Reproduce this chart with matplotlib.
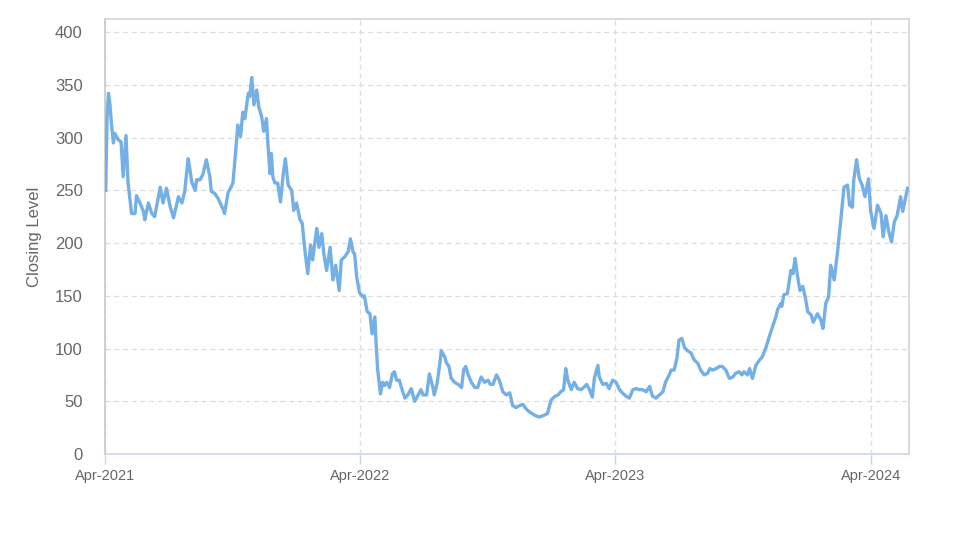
import matplotlib
matplotlib.use("Agg")
import matplotlib.pyplot as plt
import matplotlib.dates as mdates
import pandas as pd

start_date = "2021-04-01"
end_date = "2024-05-25"

# days since start_date
day_offsets = [
    1, 3, 5, 7, 9, 12, 14, 19, 23, 26, 30, 33, 38, 43, 45, 50, 55, 57, 62, 67,
    71, 79, 83, 88, 93, 98, 102, 105, 110, 114, 119, 121, 124, 129, 131, 136, 140, 145, 150, 152,
    157, 162, 169, 171, 176, 181, 183, 186, 190, 194, 197, 200, 205, 207, 210, 213, 217, 220, 224, 227,
    231, 233, 236, 238, 240, 243, 247, 251, 255, 258, 262, 267, 270, 274, 279, 282, 286, 290, 294, 297,
    300, 303, 306, 310, 313, 317, 322, 326, 330, 335, 338, 343, 348, 351, 355, 357, 360, 364, 369, 371,
    375, 379, 382, 386, 388, 390, 394, 397, 400, 403, 407, 411, 414, 417, 421, 424, 429, 433, 438, 443,
    448, 452, 455, 460, 464, 469, 471, 475, 479, 481, 486, 488, 492, 495, 500, 505, 510, 513, 516, 519,
    524, 529, 533, 538, 543, 548, 551, 555, 560, 564, 569, 574, 579, 583, 588, 593, 598, 602, 607, 614,
    621, 629, 633, 638, 643, 648, 652, 656, 659, 662, 667, 671, 676, 681, 686, 689, 693, 697, 700, 705,
    707, 712, 717, 721, 726, 731, 736, 740, 745, 750, 755, 760, 764, 769, 774, 779, 783, 788, 793, 798,
    802, 807, 810, 814, 818, 821, 825, 829, 833, 838, 843, 848, 852, 857, 862, 865, 869, 874, 879, 883,
    888, 893, 898, 902, 907, 911, 914, 919, 922, 926, 931, 936, 940, 945, 950, 955, 960, 962, 967, 968,
    971, 976, 981, 984, 987, 990, 994, 998, 1002, 1005, 1010, 1013, 1019, 1024, 1027, 1031, 1035, 1038, 1043, 1048,
    1052, 1057, 1062, 1065, 1069, 1071, 1075, 1079, 1083, 1087, 1092, 1095, 1100, 1105, 1110, 1113, 1117, 1121, 1125, 1129,
    1133, 1138, 1141, 1145, 1148,
]

closing_level = [
    250, 320, 342, 332, 315, 295, 304, 298, 296, 263, 302, 257, 228, 228, 245, 238, 230, 222, 238, 228,
    225, 253, 238, 252, 235, 224, 235, 244, 238, 249, 280, 272, 258, 250, 260, 260, 265, 279, 263, 249,
    247, 242, 232, 228, 248, 254, 257, 280, 312, 301, 324, 318, 342, 339, 357, 331, 345, 329, 320, 306,
    318, 294, 266, 285, 263, 257, 257, 239, 266, 280, 255, 250, 231, 238, 222, 219, 193, 171, 198, 184,
    200, 214, 196, 209, 190, 174, 196, 165, 179, 155, 184, 187, 192, 204, 191, 190, 168, 153, 149, 150,
    135, 133, 114, 130, 102, 80, 57, 68, 65, 68, 63, 76, 78, 70, 70, 63, 53, 56, 62, 50,
    56, 61, 56, 56, 76, 63, 56, 67, 86, 98, 92, 87, 83, 72, 68, 66, 63, 80, 83, 76,
    68, 63, 63, 73, 68, 70, 66, 66, 75, 70, 59, 56, 58, 46, 44, 46, 47, 43, 40, 37,
    35, 37, 38.5, 51, 54.5, 56, 59, 61, 81, 70, 61, 68, 62, 61, 64, 66, 61, 54, 72, 84,
    73, 66, 67, 62, 70, 68, 61, 58, 55, 53, 61, 62, 61, 61, 59, 64, 55, 53, 56, 59,
    68.5, 75, 79.6, 79.6, 90.7, 108, 109.6, 101, 98, 96, 89, 86, 79.6, 75, 76.5, 81, 79.6, 81, 83, 83,
    79.6, 71.7, 73, 76.5, 78, 75, 78, 75, 81, 71.7, 84, 89, 92, 100, 111, 121, 131, 137, 143, 140,
    151, 152, 174, 171, 185.5, 171, 155, 159, 147.6, 135, 132, 125, 133, 127, 119, 143, 149, 179, 165, 193,
    219, 253, 255, 236, 234, 260, 279, 261, 255, 244, 261, 231, 214, 236, 228, 206, 226, 211, 201, 220,
    226, 244, 230, 243, 252,
]

tick_dates = ["2021-04-01", "2022-04-01", "2023-04-01", "2024-04-01"]
y_ticks = [0, 50, 100, 150, 200, 250, 300, 350, 400]
y_label = "Closing Level"

dates = pd.Timestamp(start_date) + pd.to_timedelta(day_offsets, unit="D")

plt.rcParams["font.family"] = ["Liberation Sans", "DejaVu Sans"]

fig = plt.figure(figsize=(9.74, 5.47), dpi=100)
ax = fig.add_axes([105 / 974, 1 - 454 / 547, (909 - 105) / 974, (454 - 19) / 547])

ax.plot(dates, closing_level, color="#74afe6", linewidth=2.4, solid_joinstyle="round", zorder=3)

ax.set_xlim(pd.Timestamp(start_date), pd.Timestamp(end_date))
ax.set_ylim(0, 412.5)
ax.set_yticks(y_ticks)
ax.set_xticks([pd.Timestamp(d) for d in tick_dates])
ax.xaxis.set_major_formatter(mdates.DateFormatter("%b-%Y"))

ax.grid(True, axis="both", color="#dcdcdc", linestyle=(0, (4, 3)), linewidth=0.9, zorder=0)

for side in ["top", "right"]:
    ax.spines[side].set_color("#d4d4d4")
    ax.spines[side].set_linewidth(1.2)
ax.spines["left"].set_color("#c8c8c8")
ax.spines["left"].set_linewidth(1.2)
ax.spines["bottom"].set_color("#ccd6eb")
ax.spines["bottom"].set_linewidth(1.2)

ax.tick_params(axis="y", length=0, pad=16, labelsize=12, labelcolor="#666666")
ax.tick_params(axis="x", length=7, width=1, color="#ccd6eb", pad=4, labelsize=10.5, labelcolor="#666666")

ax.set_ylabel(y_label, fontsize=12, color="#666666", labelpad=9)

fig.savefig("out.png", dpi=100, facecolor="white")
